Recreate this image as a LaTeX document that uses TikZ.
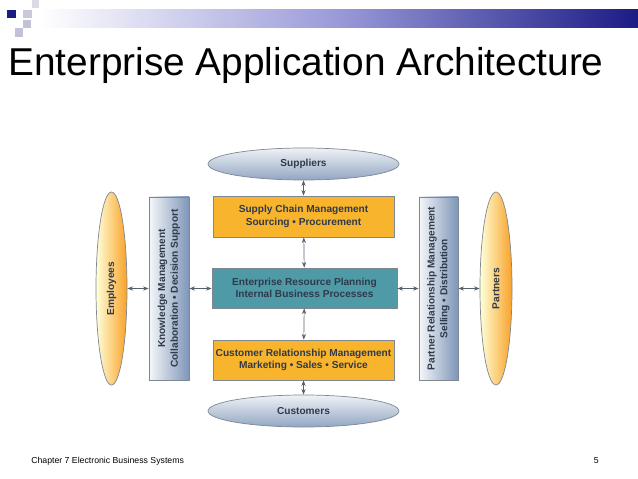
\documentclass[tikz,border=0pt]{standalone}
\usepackage{fontspec}
\setmainfont{Liberation Sans}
\usepackage{tikz}
\usetikzlibrary{arrows.meta, shapes.geometric}
\definecolor{hdr}{HTML}{1B1B85}
\definecolor{boxorange}{HTML}{F8B42C}
\definecolor{boxteal}{HTML}{4F9AA7}
\definecolor{slate}{HTML}{2F3A4A}
\definecolor{edge}{HTML}{7F8790}
\definecolor{steel}{HTML}{7E96B8}

\begin{document}
\begin{tikzpicture}[x=0.025cm, y=-0.025cm, >=Stealth,
      txt/.style={font=\fontsize{7.2}{9}\selectfont\bfseries, text=slate, align=center},
      mod/.style={txt, draw=edge, line width=0.5pt, inner sep=0pt},
      party/.style={txt, ellipse, draw=edge, line width=0.5pt, inner sep=0pt,
                    top color=steel!12, bottom color=steel!85},
      people/.style={txt, ellipse, draw=edge, line width=0.5pt, inner sep=0pt,
                     left color=yellow!15, right color=boxorange!90!red},
      side/.style={mod, left color=steel!8, right color=steel},
      link/.style={draw=slate!80, line width=0.5pt,
                   {Stealth[length=4pt,width=3pt]}-{Stealth[length=4pt,width=3pt]}}]
    \useasboundingbox (0,0) rectangle (638,479);
    % header
    \shade[left color=white, right color=hdr, middle color=blue!45!gray!55] (40,10) rectangle (638,28);
    \fill[hdr] (7,10) rectangle (16,18);
    \fill[blue!20!gray!35] (23,10) rectangle (32,18);
    \fill[blue!15!gray!25] (32,0) rectangle (39,8);
    \fill[blue!20!gray!40] (23,20) rectangle (31,28);
    \fill[blue!20!gray!40] (15,28) rectangle (23,37);
    \node[anchor=base west, inner sep=0pt, font=\fontsize{27.6}{32}\selectfont] (title) at (8,76)
      {Enterprise Application Architecture};

    % centre column
    \node[party, minimum width=4.775cm, minimum height=0.8cm] (sup) at (303.5,164) {Suppliers};
    \node[mod, fill=boxorange, minimum width=4.525cm, minimum height=1.025cm] (scm) at (303.5,216.5)
      {Supply Chain Management\\Sourcing \textbullet\ Procurement};
    \node[mod, fill=boxteal, minimum width=4.625cm, minimum height=1.0cm] (erp) at (304.5,288)
      {Enterprise Resource Planning\\Internal Business Processes};
    \node[mod, fill=boxorange, minimum width=4.525cm, minimum height=1.0cm] (crm) at (303.5,360)
      {Customer Relationship Management\\Marketing \textbullet\ Sales \textbullet\ Service};
    \node[party, minimum width=4.775cm, minimum height=0.8cm] (cus) at (303.5,411) {Customers};

    % sides
    \node[people, minimum width=0.775cm, minimum height=4.825cm] (emp) at (111.5,288.5)
      {\rotatebox{90}{Employees}};
    \node[side, minimum width=1.0cm, minimum height=4.575cm] (km) at (169,288.5)
      {\rotatebox{90}{\begin{tabular}{@{}c@{}}Knowledge Management\\Collaboration \textbullet\ Decision Support\end{tabular}}};
    \node[side, minimum width=0.975cm, minimum height=4.575cm] (prm) at (438.5,288.5)
      {\rotatebox{90}{\begin{tabular}{@{}c@{}}Partner Relationship Management\\Selling \textbullet\ Distribution\end{tabular}}};
    \node[people, minimum width=0.8cm, minimum height=4.825cm] (par) at (496,288.5)
      {\rotatebox{90}{Partners}};

    \draw[link] (sup) -- (scm);
    \draw[link] (scm) -- (erp);
    \draw[link] (erp) -- (crm);
    \draw[link] (crm) -- (cus);
    \draw[link] (emp) -- (km);
    \draw[link] (km) -- (erp.west |- km);
    \draw[link] (erp.east |- prm) -- (prm);
    \draw[link] (prm) -- (par);

    % footer
    \node[anchor=base west, inner sep=0pt, font=\fontsize{6.2}{7}\selectfont] (chap) at (31,463)
      {Chapter 7 Electronic Business Systems};
    \node[anchor=base east, inner sep=0pt, font=\fontsize{6.2}{7}\selectfont] (pg) at (599,463) {5};
  \end{tikzpicture}
\end{document}
